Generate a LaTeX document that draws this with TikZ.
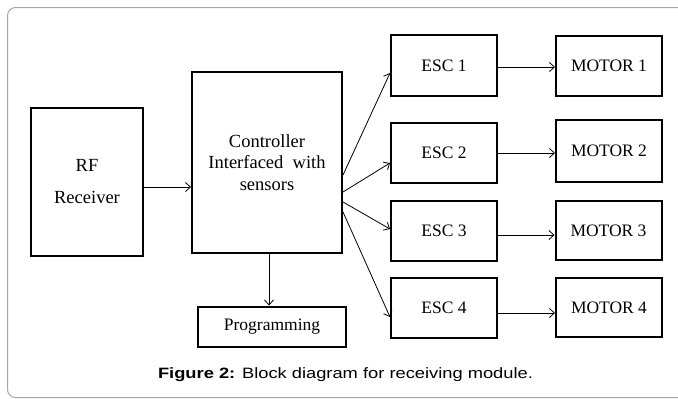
\documentclass[tikz,border=0pt]{standalone}
\usepackage{fontspec}
\setmainfont{Liberation Serif}
\newfontfamily\capfont{Liberation Sans}
\usetikzlibrary{arrows.meta}
\begin{document}
\begin{tikzpicture}[x=1pt,y=-1pt,
  blk/.style={draw, line width=2pt, inner sep=0pt, align=center, font=\fontsize{17.5}{21.5}\selectfont},
  arr/.style={line width=0.8pt, -{Straight Barb[length=5pt,width=9pt,line width=0.8pt]}},
  frame/.style={draw=black!35, line width=1pt, rounded corners=8pt}]
\useasboundingbox (0,0) rectangle (678,399);
\clip (0,0) rectangle (678,399);
\draw[frame] (7.5,7.5) rectangle (720,397.5);
% blocks
\node[blk, minimum width=112pt, minimum height=148pt, font=\fontsize{18.5}{32}\selectfont] (rf) at (87,182) {RF\\Receiver};
\node[blk, minimum width=150pt, minimum height=181pt, font=\fontsize{18.5}{21.5}\selectfont] (ctrl) at (267,162.5) {Controller\\Interfaced\ \ with\\sensors};
\node[blk, minimum width=148pt, minimum height=40pt] (prog) at (272,326.5) {Programming};
\node[blk, minimum width=106pt, minimum height=61pt] (e1) at (444,65.5) {ESC 1};
\node[blk, minimum width=106pt, minimum height=60pt] (e2) at (444,153) {ESC 2};
\node[blk, minimum width=106pt, minimum height=60pt] (e3) at (444,231) {ESC 3};
\node[blk, minimum width=106pt, minimum height=60pt] (e4) at (444,308) {ESC 4};
\node[blk, minimum width=106pt, minimum height=60pt] (m1) at (609,66) {MOTOR 1};
\node[blk, minimum width=106pt, minimum height=62pt] (m2) at (609,151) {MOTOR 2};
\node[blk, minimum width=106pt, minimum height=59pt] (m3) at (608.5,230.5) {MOTOR 3};
\node[blk, minimum width=106pt, minimum height=59pt] (m4) at (609,307.5) {MOTOR 4};
% connectors
\draw[arr] ([yshift=-5pt]rf.east) -- ([yshift=-5pt]rf.east -| ctrl.west);
\draw[arr] ([xshift=2pt]ctrl.south) -- ([xshift=2pt]ctrl.south |- prog.north);
\draw[arr] ([yshift=-12.5pt]ctrl.east) -- ([yshift=-7.5pt]e1.west);
\draw[arr] ([yshift=-29.5pt]ctrl.east) -- ([yshift=-10pt]e2.west);
\draw[arr] ([yshift=-39.5pt]ctrl.east) -- ([yshift=2pt]e3.west);
\draw[arr] ([yshift=-49.5pt]ctrl.east) -- ([yshift=-9pt]e4.west);
\draw[arr] ([yshift=-1.5pt]e1.east) -- ([yshift=-1.5pt]e1.east -| m1.west);
\draw[arr] (e2.east) -- (e2.east -| m2.west);
\draw[arr] ([yshift=-4pt]e3.east) -- ([yshift=-4pt]e3.east -| m3.west);
\draw[arr] ([yshift=-5pt]e4.east) -- ([yshift=-5pt]e4.east -| m4.west);
% caption
\node[anchor=base, inner sep=0pt] (cap) at (345.5,378) {\scalebox{1.22}[1]{\capfont\fontsize{15}{17}\selectfont\textbf{Figure 2:} Block diagram for receiving module.}};
\end{tikzpicture}
\end{document}
